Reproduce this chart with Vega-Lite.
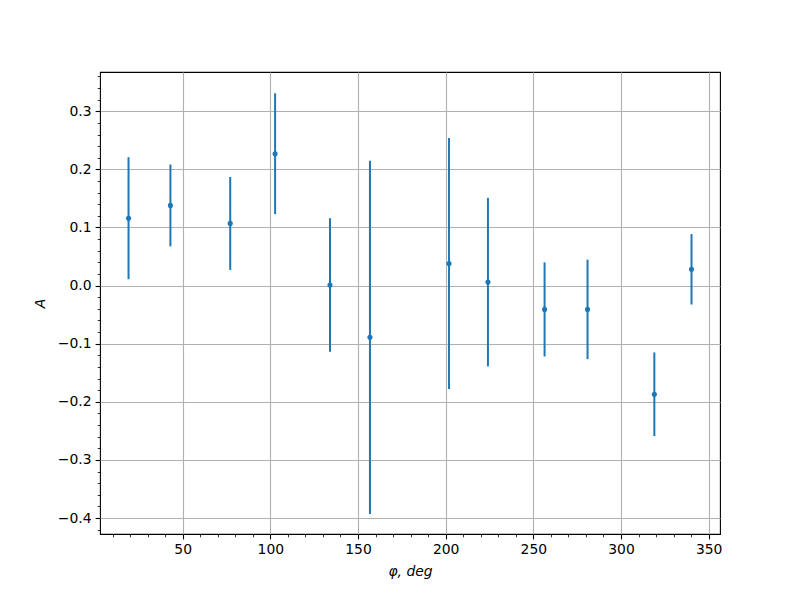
{
  "$schema": "https://vega.github.io/schema/vega-lite/v6.json",
  "width": 620,
  "height": 462,
  "autosize": {"type": "none"},
  "padding": {"left": 100, "top": 72, "right": 80, "bottom": 66},
  "background": "white",
  "config": {
    "font": "DejaVu Sans",
    "view": {"stroke": "black", "strokeWidth": 1.1},
    "axis": {
      "domain": false,
      "labelColor": "black",
      "labelFontSize": 13.9,
      "titleFontSize": 13.9,
      "titleFontWeight": "normal",
      "titleFontStyle": "italic",
      "titleColor": "black",
      "tickColor": "black",
      "gridColor": "#b0b0b0",
      "gridWidth": 1.1,
      "labelFont": "DejaVu Sans",
      "titleFont": "DejaVu Sans"
    }
  },
  "data": {
    "values": [
      {"phi": 19.1, "A": 0.116, "err": 0.105},
      {"phi": 43.0, "A": 0.138, "err": 0.0705},
      {"phi": 77.1, "A": 0.107, "err": 0.08},
      {"phi": 102.7, "A": 0.227, "err": 0.104},
      {"phi": 134.0, "A": 0.001, "err": 0.115},
      {"phi": 156.8, "A": -0.089, "err": 0.304},
      {"phi": 201.9, "A": 0.038, "err": 0.216},
      {"phi": 224.1, "A": 0.006, "err": 0.145},
      {"phi": 256.4, "A": -0.041, "err": 0.081},
      {"phi": 280.9, "A": -0.041, "err": 0.0856},
      {"phi": 319.0, "A": -0.187, "err": 0.072},
      {"phi": 340.2, "A": 0.028, "err": 0.0606}
    ]
  },
  "encoding": {
    "x": {
      "field": "phi",
      "type": "quantitative",
      "scale": {"domain": [2.83, 356.45], "nice": false, "zero": false},
      "axis": {
        "title": "φ, deg",
        "values": [10,20,30,40,50,60,70,80,90,100,110,120,130,140,150,160,170,180,190,200,210,220,230,240,250,260,270,280,290,300,310,320,330,340,350],
        "labelExpr": "datum.value % 50 === 0 ? datum.label : ''",
        "tickSize": {"condition": {"test": "datum.value % 50 === 0", "value": 4.9}, "value": 2.8},
        "tickWidth": {"condition": {"test": "datum.value % 50 === 0", "value": 1.1}, "value": 0.8},
        "gridOpacity": {"condition": {"test": "datum.value % 50 === 0", "value": 1}, "value": 0},
        "grid": true,
        "labelPadding": 4,
        "titlePadding": 8,
        "labelFlush": false
      }
    },
    "y": {
      "field": "A",
      "type": "quantitative",
      "scale": {"domain": [-0.4275, 0.3676], "nice": false, "zero": false},
      "axis": {
        "title": "A",
        "format": ".1f",
        "values": [-0.42,-0.40,-0.38,-0.36,-0.34,-0.32,-0.30,-0.28,-0.26,-0.24,-0.22,-0.20,-0.18,-0.16,-0.14,-0.12,-0.10,-0.08,-0.06,-0.04,-0.02,0,0.02,0.04,0.06,0.08,0.10,0.12,0.14,0.16,0.18,0.20,0.22,0.24,0.26,0.28,0.30,0.32,0.34,0.36],
        "labelExpr": "abs(datum.value*10 - round(datum.value*10)) < 1e-6 ? replace(datum.label, '-', '−') : ''",
        "tickSize": {"condition": {"test": "abs(datum.value*10 - round(datum.value*10)) < 1e-6", "value": 4.9}, "value": 2.8},
        "tickWidth": {"condition": {"test": "abs(datum.value*10 - round(datum.value*10)) < 1e-6", "value": 1.1}, "value": 0.8},
        "gridOpacity": {"condition": {"test": "abs(datum.value*10 - round(datum.value*10)) < 1e-6", "value": 1}, "value": 0},
        "grid": true,
        "labelPadding": 4,
        "titlePadding": 10,
        "labelFlush": false
      }
    }
  },
  "layer": [
    {
      "mark": {"type": "errorbar", "color": "#1f77b4", "thickness": 2, "ticks": false},
      "encoding": {"yError": {"field": "err"}}
    },
    {
      "mark": {"type": "point", "filled": true, "size": 26, "color": "#1f77b4", "opacity": 1}
    }
  ]
}
